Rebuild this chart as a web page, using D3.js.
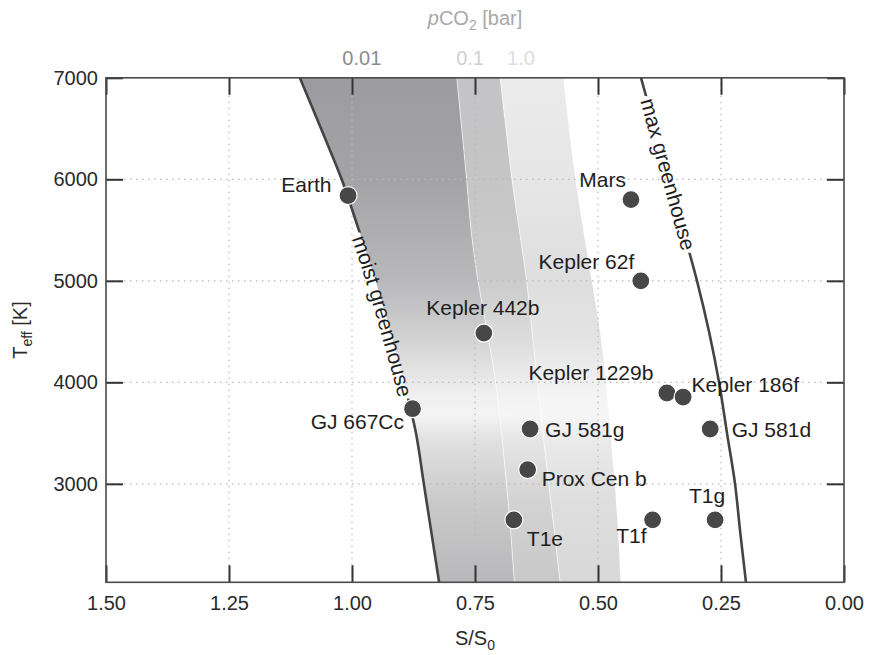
<!DOCTYPE html>
<html>
<head>
<meta charset="utf-8">
<script src="https://cdn.jsdelivr.net/npm/d3@7"></script>
<style>
  html, body { margin: 0; padding: 0; background: #fff; }
  svg { display: block; font-family: "Liberation Sans", Arial, Helvetica, sans-serif; }
</style>
</head>
<body>
<svg id="chart" width="869" height="655"></svg>
<script>
// Stellar effective temperature grid (K) on which the limit curves are tabulated
const teffGrid = [7000, 6500, 6000, 5500, 5000, 4500, 4000, 3500, 3000, 2500, 2030];
// Inner edge: moist greenhouse limit (S/S0)
const moistGreenhouse = [1.106, 1.063, 1.021, 0.986, 0.952, 0.922, 0.894, 0.870, 0.854, 0.838, 0.823];
// Outer edges reachable with 0.01, 0.1 and 1.0 bar of CO2
const limitCO2_001 = [0.787, 0.777, 0.767, 0.758, 0.744, 0.725, 0.708, 0.696, 0.686, 0.677, 0.670];
const limitCO2_01  = [0.699, 0.687, 0.675, 0.660, 0.645, 0.634, 0.623, 0.612, 0.600, 0.588, 0.577];
const limitCO2_1   = [0.5705, 0.559, 0.546, 0.530, 0.513, 0.496, 0.484, 0.475, 0.466, 0.459, 0.454];
// Outer edge: maximum greenhouse limit
const maxGreenhouse = [0.4126, 0.384, 0.3557, 0.327, 0.2988, 0.2744, 0.254, 0.2378, 0.2215, 0.2104, 0.1992];

// Planets: name, incident flux (S/S0), host star Teff (K)
const planetNames = ["Earth", "Mars", "Kepler 62f", "Kepler 442b", "Kepler 1229b", "Kepler 186f",
                     "GJ 667Cc", "GJ 581g", "GJ 581d", "Prox Cen b", "T1e", "T1f", "T1g"];
const planetFlux  = [1.008, 0.433, 0.413, 0.732, 0.360, 0.327, 0.877, 0.638, 0.272, 0.643, 0.671, 0.389, 0.262];
const planetTeff  = [5840, 5800, 5000, 4485, 3895, 3855, 3740, 3540, 3540, 3140, 2645, 2645, 2645];

// Axis ticks
const xTicks = [1.5, 1.25, 1.0, 0.75, 0.5, 0.25, 0];
const yTicks = [3000, 4000, 5000, 6000, 7000];
const xGrid = [1.25, 1.0, 0.75, 0.5, 0.25];
const yGrid = [3000, 4000, 5000, 6000];

// pCO2 labels along the top, placed over their bands (S/S0)
const pco2Labels = ["0.01", "0.1", "1.0"];
const pco2Flux = [0.980, 0.760, 0.6565];

// ---- layout ----
const W = 869, H = 655;
const plot = { left: 106, right: 844, top: 77.8, bottom: 582.3 };

const svg = d3.select("#chart");
const x = d3.scaleLinear().domain([1.5, 0]).range([plot.left, plot.right]);
const y = d3.scaleLinear().domain([2030, 7000]).range([plot.bottom, plot.top]);

const rows = teffGrid.map((t, i) => ({
  t, moist: moistGreenhouse[i], c001: limitCO2_001[i], c01: limitCO2_01[i],
  c1: limitCO2_1[i], max: maxGreenhouse[i]
}));

const defs = svg.append("defs");
defs.append("clipPath").attr("id", "plotClip")
  .append("rect").attr("x", plot.left).attr("y", plot.top)
  .attr("width", plot.right - plot.left).attr("height", plot.bottom - plot.top);

// vertical shading of each pCO2 band
const bandShades = [
  [[0, "#9c9ca0"], [0.2, "#a4a4a7"], [0.4, "#b8b8ba"], [0.52, "#d3d3d4"], [0.63, "#f0f0f0"], [0.67, "#f3f3f3"], [0.72, "#e0e0e0"], [0.84, "#cacacb"], [1, "#b8b8ba"]],
  [[0, "#c4c4c6"], [0.2, "#c5c5c6"], [0.4, "#cbcbcc"], [0.52, "#dcdcdc"], [0.63, "#f2f2f2"], [0.67, "#f5f5f5"], [0.72, "#e5e5e5"], [0.84, "#d3d3d3"], [1, "#c8c8c9"]],
  [[0, "#ebebeb"], [0.2, "#e6e6e6"], [0.4, "#dedede"], [0.52, "#e4e4e4"], [0.63, "#f4f4f4"], [0.67, "#f6f6f6"], [0.72, "#eaeaea"], [0.84, "#dedede"], [1, "#d8d8d8"]]
];
bandShades.forEach((stops, i) => {
  const g = defs.append("linearGradient").attr("id", "band" + i)
    .attr("gradientUnits", "userSpaceOnUse")
    .attr("x1", 0).attr("x2", 0).attr("y1", y(7000)).attr("y2", y(2030));
  stops.forEach(s => g.append("stop").attr("offset", s[0]).attr("stop-color", s[1]));
});

const bands = [["moist", "c001"], ["c001", "c01"], ["c01", "c1"]];
const gBands = svg.append("g").attr("clip-path", "url(#plotClip)");
bands.forEach(([a, b], i) => {
  const area = d3.area()
    .y(d => y(d.t)).x0(d => x(d[a])).x1(d => x(d[b]))
    .curve(d3.curveMonotoneY);
  gBands.append("path").datum(rows).attr("d", area).attr("fill", `url(#band${i})`);
});
// faint seams between bands
["c001", "c01"].forEach(k => {
  const ln = d3.line().y(d => y(d.t)).x(d => x(d[k])).curve(d3.curveMonotoneY);
  gBands.append("path").datum(rows).attr("d", ln)
    .attr("fill", "none").attr("stroke", "#fff").attr("stroke-width", 0.8).attr("stroke-opacity", 0.75);
});

// dotted grid
const gGrid = svg.append("g").attr("stroke", "#b9b9b9").attr("stroke-width", 1.2)
  .attr("stroke-dasharray", "1.5,4.5");
xGrid.forEach(v => gGrid.append("line")
  .attr("x1", x(v)).attr("x2", x(v)).attr("y1", plot.top).attr("y2", plot.bottom));
yGrid.forEach(v => gGrid.append("line")
  .attr("y1", y(v)).attr("y2", y(v)).attr("x1", plot.left).attr("x2", plot.right));

// limit curves with their labels written along them
const limitLines = [
  { key: "moist", id: "moistPath", label: "moist greenhouse", offset: 169, dy: 9.5 },
  { key: "max", id: "maxPath", label: "max greenhouse", offset: 22, dy: 7 }
];
const gLines = svg.append("g");
limitLines.forEach(L => {
  const ln = d3.line().y(d => y(d.t)).x(d => x(d[L.key])).curve(d3.curveMonotoneY);
  const p = defs.append("path").attr("id", L.id).datum(rows).attr("d", ln);
  const txt = gLines.append("text").attr("font-size", 21).attr("fill", "#1e1e1e");
  txt.append("textPath").attr("href", "#" + L.id).attr("startOffset", L.offset)
    .append("tspan").attr("dy", L.dy).text(L.label);
  // gap in the stroke where the label sits
  const len = txt.node().getComputedTextLength();
  const pn = p.node();
  const p0 = pn.getPointAtLength(L.offset - 3);
  const p1 = pn.getPointAtLength(L.offset + len + 3);
  const mask = defs.append("mask").attr("id", L.id + "Mask").attr("maskUnits", "userSpaceOnUse")
    .attr("x", 0).attr("y", 0).attr("width", W).attr("height", H);
  mask.append("rect").attr("width", W).attr("height", H).attr("fill", "#fff");
  mask.append("rect").attr("x", 0).attr("width", W)
    .attr("y", p0.y).attr("height", p1.y - p0.y).attr("fill", "#000");
  gLines.insert("path", "text").datum(rows).attr("d", ln)
    .attr("fill", "none").attr("stroke", "#444").attr("stroke-width", 2.6)
    .attr("clip-path", "url(#plotClip)")
    .attr("mask", `url(#${L.id}Mask)`);
});

// axes with inward ticks
const tickLen = 17;
const fmtX = d3.format(".2f");
const axisStyle = g => {
  g.attr("color", "#333").attr("font-family", null).attr("font-size", null);
  g.select(".domain").remove();
  g.selectAll(".tick line").attr("stroke-width", 2);
  g.selectAll(".tick text").attr("font-size", 20).attr("fill", "#2a2a2a");
};
svg.append("g").attr("transform", `translate(0,${plot.bottom})`)
  .call(d3.axisBottom(x).tickValues(xTicks).tickFormat(fmtX).tickSize(-tickLen).tickPadding(14))
  .call(axisStyle);
svg.append("g").attr("transform", `translate(0,${plot.top})`)
  .call(d3.axisTop(x).tickValues(xTicks).tickFormat("").tickSize(-tickLen))
  .call(axisStyle);
svg.append("g").attr("transform", `translate(${plot.left},0)`)
  .call(d3.axisLeft(y).tickValues(yTicks).tickFormat(d3.format("d")).tickSize(-tickLen).tickPadding(8))
  .call(axisStyle);
svg.append("g").attr("transform", `translate(${plot.right},0)`)
  .call(d3.axisRight(y).tickValues(yTicks).tickFormat("").tickSize(-tickLen))
  .call(axisStyle);

// frame
svg.append("rect").attr("x", plot.left).attr("y", plot.top)
  .attr("width", plot.right - plot.left).attr("height", plot.bottom - plot.top)
  .attr("fill", "none").attr("stroke", "#4a4a4a").attr("stroke-width", 1.6);

// planets
const planets = planetNames.map((n, i) => ({ name: n, s: planetFlux[i], t: planetTeff[i] }));
const labelPlacement = {
  "Earth": ["end", -16.5, -3.5],
  "Mars": ["end", -5, -12.5],
  "Kepler 62f": ["end", -6.5, -11.5],
  "Kepler 442b": ["middle", -1, -18],
  "Kepler 1229b": ["end", -13.5, -13],
  "Kepler 186f": ["start", 8.5, -5.5],
  "GJ 667Cc": ["end", -8.5, 20.5],
  "GJ 581g": ["start", 15, 8],
  "GJ 581d": ["start", 21.5, 7.5],
  "Prox Cen b": ["start", 14, 16],
  "T1e": ["start", 13, 26],
  "T1f": ["end", -6, 23.5],
  "T1g": ["end", 10, -16.5]
};
const gPl = svg.append("g");
gPl.selectAll("circle").data(planets).join("circle")
  .attr("cx", d => x(d.s)).attr("cy", d => y(d.t)).attr("r", 9)
  .attr("fill", "#474747").attr("stroke", "#fff").attr("stroke-width", 1.2);
gPl.selectAll("text").data(planets).join("text")
  .attr("x", d => x(d.s) + labelPlacement[d.name][1])
  .attr("y", d => y(d.t) + labelPlacement[d.name][2])
  .attr("text-anchor", d => labelPlacement[d.name][0])
  .attr("font-size", 21).attr("fill", "#1e1e1e")
  .text(d => d.name);

// pCO2 scale along the top
const pco2Colors = ["#8c8c8c", "#d0d0d0", "#dddddd"];
svg.append("g").selectAll("text").data(pco2Labels).join("text")
  .attr("x", (d, i) => x(pco2Flux[i])).attr("y", 65)
  .attr("text-anchor", "middle").attr("font-size", 20)
  .attr("fill", (d, i) => pco2Colors[i]).text(d => d);

const pt = svg.append("text").attr("x", (plot.left + plot.right) / 2).attr("y", 25)
  .attr("text-anchor", "middle").attr("font-size", 20).attr("fill", "#a8a8a8");
pt.append("tspan").attr("font-style", "italic").text("p");
pt.append("tspan").text("CO");
pt.append("tspan").attr("font-size", 14).attr("dy", 5).text("2");
pt.append("tspan").attr("dy", -5).text(" [bar]");

// axis titles
const xt = svg.append("text").attr("x", (plot.left + plot.right) / 2).attr("y", 645)
  .attr("text-anchor", "middle").attr("font-size", 20).attr("fill", "#2a2a2a");
xt.append("tspan").text("S/S");
xt.append("tspan").attr("font-size", 14).attr("dy", 5).text("0");

const yt = svg.append("text")
  .attr("transform", `translate(27,${(plot.top + plot.bottom) / 2}) rotate(-90)`)
  .attr("text-anchor", "middle").attr("font-size", 20).attr("fill", "#2a2a2a");
yt.append("tspan").text("T");
yt.append("tspan").attr("font-size", 14).attr("dy", 5).text("eff");
yt.append("tspan").attr("dy", -5).text(" [K]");
</script>
</body>
</html>
